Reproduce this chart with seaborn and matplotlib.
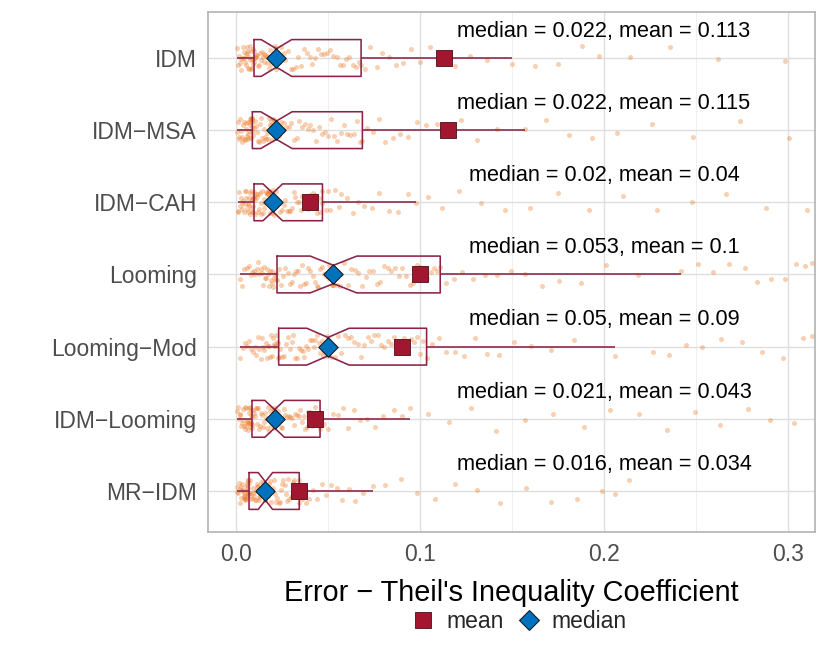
import numpy as np
import pandas as pd
import seaborn as sns
import matplotlib
matplotlib.use("Agg")
import matplotlib.pyplot as plt
from matplotlib.lines import Line2D

# model names (R drew the hyphen as a minus sign)
models = ["IDM", "IDM\u2212MSA", "IDM\u2212CAH", "Looming", "Looming\u2212Mod",
          "IDM\u2212Looming", "MR\u2212IDM"]

# summary values printed on the chart
medians = [0.022, 0.022, 0.02, 0.053, 0.05, 0.021, 0.016]
means = [0.113, 0.115, 0.04, 0.1, 0.09, 0.043, 0.034]

# per-run errors, estimated from the point clouds (a few runs lie beyond the x range)
idm = [
    0.0008, 0.0012, 0.0017, 0.0021, 0.0026, 0.0029, 0.0034, 0.0038, 0.0041, 0.0045,
    0.0049, 0.0052, 0.0055, 0.0058, 0.0062, 0.0064, 0.0067, 0.0071, 0.0073, 0.0076,
    0.0078, 0.0081, 0.0083, 0.0086, 0.0088, 0.0091, 0.0093, 0.0094, 0.0096, 0.0097,
    0.0098, 0.0102, 0.0107, 0.0111, 0.0116, 0.0121, 0.0125, 0.0131, 0.0136, 0.0140,
    0.0145, 0.0151, 0.0155, 0.0160, 0.0166, 0.0171, 0.0175, 0.0181, 0.0186, 0.0190,
    0.0194, 0.0198, 0.0201, 0.0204, 0.0207, 0.0210, 0.0213, 0.0215, 0.0217, 0.0219,
    0.0220, 0.0232, 0.0245, 0.0259, 0.0268, 0.0283, 0.0297, 0.0310, 0.0326, 0.0339,
    0.0355, 0.0370, 0.0384, 0.0401, 0.0415, 0.0432, 0.0448, 0.0463, 0.0479, 0.0496,
    0.0512, 0.0529, 0.0547, 0.0563, 0.0581, 0.0598, 0.0616, 0.0634, 0.0651, 0.0667,
    0.0680, 0.0702, 0.0731, 0.0764, 0.0793, 0.0832, 0.0868, 0.0907, 0.0951, 0.0998,
    0.1057, 0.1121, 0.1188, 0.1273, 0.1364, 0.1498, 0.1623, 0.1752, 0.1881, 0.1972,
    0.2143, 0.2361, 0.2618, 0.2984, 0.35, 0.48, 0.70, 1.00, 1.45, 1.90, 2.50,
]
idm_msa = [
    0.0007, 0.0011, 0.0016, 0.0019, 0.0024, 0.0028, 0.0031, 0.0035, 0.0039, 0.0042,
    0.0046, 0.0049, 0.0052, 0.0055, 0.0058, 0.0061, 0.0064, 0.0067, 0.0069, 0.0072,
    0.0074, 0.0076, 0.0078, 0.0080, 0.0082, 0.0084, 0.0085, 0.0086, 0.0087, 0.0088,
    0.0089, 0.0094, 0.0099, 0.0104, 0.0110, 0.0115, 0.0121, 0.0126, 0.0132, 0.0137,
    0.0143, 0.0148, 0.0153, 0.0159, 0.0164, 0.0169, 0.0174, 0.0179, 0.0184, 0.0189,
    0.0193, 0.0197, 0.0201, 0.0204, 0.0207, 0.0210, 0.0213, 0.0215, 0.0217, 0.0219,
    0.0220, 0.0234, 0.0247, 0.0261, 0.0273, 0.0288, 0.0301, 0.0316, 0.0329, 0.0345,
    0.0359, 0.0374, 0.0390, 0.0405, 0.0421, 0.0437, 0.0452, 0.0468, 0.0484, 0.0501,
    0.0517, 0.0534, 0.0551, 0.0569, 0.0586, 0.0604, 0.0621, 0.0639, 0.0656, 0.0672,
    0.0687, 0.0712, 0.0745, 0.0778, 0.0812, 0.0853, 0.0891, 0.0934, 0.0982, 0.1035,
    0.1092, 0.1153, 0.1224, 0.1312, 0.1421, 0.1568, 0.1684, 0.1812, 0.1935, 0.2071,
    0.2262, 0.2483, 0.2741, 0.3008, 0.36, 0.50, 0.72, 1.05, 1.50, 2.00, 2.60,
]
idm_cah = [
    0.0009, 0.0013, 0.0018, 0.0022, 0.0027, 0.0031, 0.0035, 0.0039, 0.0043, 0.0047,
    0.0050, 0.0053, 0.0057, 0.0060, 0.0063, 0.0066, 0.0069, 0.0072, 0.0075, 0.0078,
    0.0080, 0.0083, 0.0085, 0.0087, 0.0089, 0.0091, 0.0093, 0.0095, 0.0096, 0.0097,
    0.0098, 0.0102, 0.0106, 0.0110, 0.0114, 0.0118, 0.0122, 0.0126, 0.0130, 0.0134,
    0.0138, 0.0142, 0.0146, 0.0150, 0.0154, 0.0158, 0.0162, 0.0166, 0.0170, 0.0174,
    0.0178, 0.0181, 0.0184, 0.0187, 0.0190, 0.0192, 0.0194, 0.0196, 0.0198, 0.0199,
    0.0200, 0.0208, 0.0216, 0.0225, 0.0233, 0.0242, 0.0251, 0.0260, 0.0269, 0.0278,
    0.0287, 0.0296, 0.0305, 0.0314, 0.0323, 0.0333, 0.0342, 0.0352, 0.0361, 0.0371,
    0.0381, 0.0391, 0.0400, 0.0410, 0.0420, 0.0430, 0.0440, 0.0450, 0.0459, 0.0466,
    0.0470, 0.0490, 0.0500, 0.0512, 0.0540, 0.0562, 0.0571, 0.0603, 0.0634, 0.0662,
    0.0698, 0.0741, 0.0779, 0.0832, 0.0881, 0.0934, 0.0978, 0.1043, 0.1121, 0.1213,
    0.1332, 0.1461, 0.1598, 0.1752, 0.1917, 0.2103, 0.2288, 0.2476, 0.2661, 0.2879, 0.3102,
]
looming = [
    0.0021, 0.0034, 0.0046, 0.0058, 0.0069, 0.0079, 0.0088, 0.0097, 0.0105, 0.0113,
    0.0120, 0.0127, 0.0134, 0.0141, 0.0147, 0.0153, 0.0159, 0.0165, 0.0170, 0.0175,
    0.0180, 0.0185, 0.0190, 0.0194, 0.0198, 0.0203, 0.0208, 0.0213, 0.0217, 0.0220,
    0.0223, 0.0235, 0.0246, 0.0258, 0.0269, 0.0281, 0.0292, 0.0304, 0.0316, 0.0327,
    0.0338, 0.0349, 0.0361, 0.0372, 0.0383, 0.0394, 0.0405, 0.0416, 0.0427, 0.0438,
    0.0448, 0.0459, 0.0469, 0.0479, 0.0489, 0.0498, 0.0507, 0.0515, 0.0522, 0.0527,
    0.0530, 0.0549, 0.0568, 0.0587, 0.0607, 0.0626, 0.0646, 0.0665, 0.0685, 0.0705,
    0.0724, 0.0744, 0.0764, 0.0784, 0.0804, 0.0824, 0.0844, 0.0864, 0.0884, 0.0904,
    0.0924, 0.0944, 0.0963, 0.0982, 0.1001, 0.1020, 0.1039, 0.1058, 0.1077, 0.1095,
    0.1110, 0.1142, 0.1183, 0.1231, 0.1288, 0.1352, 0.1421, 0.1497, 0.1573, 0.1662,
    0.1758, 0.1876, 0.2009, 0.2187, 0.2421, 0.2512, 0.2593, 0.2681, 0.2764, 0.2832,
    0.2907, 0.2981, 0.3043, 0.3092, 0.3131, 0.33, 0.37, 0.42, 0.50, 0.58, 0.68,
]
looming_mod = [
    0.0022, 0.0036, 0.0049, 0.0061, 0.0072, 0.0083, 0.0093, 0.0102, 0.0111, 0.0119,
    0.0127, 0.0134, 0.0141, 0.0148, 0.0155, 0.0161, 0.0167, 0.0173, 0.0179, 0.0184,
    0.0189, 0.0194, 0.0199, 0.0204, 0.0209, 0.0214, 0.0219, 0.0223, 0.0227, 0.0230,
    0.0232, 0.0242, 0.0252, 0.0262, 0.0272, 0.0282, 0.0292, 0.0302, 0.0312, 0.0322,
    0.0332, 0.0342, 0.0352, 0.0362, 0.0372, 0.0382, 0.0392, 0.0402, 0.0412, 0.0422,
    0.0431, 0.0440, 0.0449, 0.0457, 0.0465, 0.0472, 0.0479, 0.0486, 0.0492, 0.0497,
    0.0500, 0.0518, 0.0536, 0.0554, 0.0572, 0.0590, 0.0608, 0.0626, 0.0644, 0.0662,
    0.0680, 0.0698, 0.0716, 0.0734, 0.0752, 0.0770, 0.0788, 0.0806, 0.0824, 0.0842,
    0.0860, 0.0878, 0.0896, 0.0914, 0.0932, 0.0949, 0.0966, 0.0983, 0.1000, 0.1018,
    0.1036, 0.1067, 0.1103, 0.1142, 0.1188, 0.1241, 0.1297, 0.1362, 0.1431, 0.1512,
    0.1603, 0.1712, 0.1836, 0.2061, 0.2267, 0.2354, 0.2448, 0.2532, 0.2637, 0.2749,
    0.2861, 0.2973, 0.3079, 0.3132, 0.33, 0.36, 0.39, 0.42, 0.43, 0.47, 0.52,
]
idm_looming = [
    0.0005, 0.0010, 0.0015, 0.0020, 0.0024, 0.0028, 0.0032, 0.0036, 0.0040, 0.0044,
    0.0047, 0.0050, 0.0053, 0.0056, 0.0059, 0.0062, 0.0065, 0.0067, 0.0069, 0.0071,
    0.0073, 0.0075, 0.0077, 0.0079, 0.0080, 0.0082, 0.0083, 0.0084, 0.0085, 0.0086,
    0.0087, 0.0092, 0.0097, 0.0102, 0.0107, 0.0112, 0.0117, 0.0122, 0.0127, 0.0132,
    0.0137, 0.0142, 0.0147, 0.0152, 0.0157, 0.0162, 0.0167, 0.0172, 0.0177, 0.0182,
    0.0186, 0.0190, 0.0194, 0.0197, 0.0200, 0.0202, 0.0204, 0.0206, 0.0208, 0.0209,
    0.0210, 0.0218, 0.0227, 0.0235, 0.0244, 0.0252, 0.0261, 0.0269, 0.0278, 0.0287,
    0.0296, 0.0304, 0.0313, 0.0322, 0.0331, 0.0340, 0.0349, 0.0358, 0.0367, 0.0376,
    0.0385, 0.0394, 0.0403, 0.0412, 0.0421, 0.0429, 0.0437, 0.0444, 0.0450, 0.0454,
    0.0457, 0.0478, 0.0501, 0.0525, 0.0552, 0.0580, 0.0609, 0.0641, 0.0674, 0.0712,
    0.0753, 0.0801, 0.0857, 0.0903, 0.0948, 0.1042, 0.1157, 0.1279, 0.1413, 0.1568,
    0.1721, 0.1893, 0.2034, 0.2189, 0.2342, 0.2497, 0.2633, 0.2781, 0.2902, 0.3034, 0.33,
]
mr_idm = [
    0.0004, 0.0008, 0.0012, 0.0016, 0.0020, 0.0023, 0.0026, 0.0029, 0.0032, 0.0035,
    0.0038, 0.0041, 0.0043, 0.0045, 0.0047, 0.0049, 0.0051, 0.0053, 0.0055, 0.0057,
    0.0059, 0.0061, 0.0062, 0.0064, 0.0065, 0.0066, 0.0067, 0.0068, 0.0069, 0.0070,
    0.0071, 0.0075, 0.0079, 0.0083, 0.0087, 0.0091, 0.0095, 0.0099, 0.0103, 0.0107,
    0.0111, 0.0114, 0.0117, 0.0120, 0.0123, 0.0126, 0.0129, 0.0132, 0.0135, 0.0138,
    0.0141, 0.0144, 0.0147, 0.0150, 0.0152, 0.0154, 0.0156, 0.0157, 0.0158, 0.0159,
    0.0160, 0.0167, 0.0173, 0.0180, 0.0186, 0.0193, 0.0199, 0.0206, 0.0212, 0.0219,
    0.0225, 0.0232, 0.0238, 0.0245, 0.0251, 0.0258, 0.0264, 0.0271, 0.0277, 0.0284,
    0.0290, 0.0297, 0.0303, 0.0309, 0.0315, 0.0321, 0.0327, 0.0332, 0.0337, 0.0341,
    0.0344, 0.0361, 0.0379, 0.0398, 0.0419, 0.0441, 0.0465, 0.0491, 0.0518, 0.0547,
    0.0578, 0.0612, 0.0649, 0.0691, 0.0743, 0.0812, 0.0897, 0.0985, 0.1083, 0.1192,
    0.1311, 0.1436, 0.1574, 0.1712, 0.1853, 0.1987, 0.2061, 0.2134, 0.33, 0.36, 0.41,
]

runs = [idm, idm_msa, idm_cah, looming, looming_mod, idm_looming, mr_idm]
df = pd.concat([pd.DataFrame({"model": m, "error": v}) for m, v in zip(models, runs)],
               ignore_index=True)

point_col = "#EC7A28"
box_col = "#8C2346"
mean_col = "#A3162F"
median_col = "#0072BD"

sns.set_style("white")
plt.rcParams["font.family"] = ["Liberation Sans", "DejaVu Sans"]

fig, ax = plt.subplots(figsize=(8.3, 6.46), dpi=100)
fig.subplots_adjust(left=0.2506, right=0.982, top=0.9814, bottom=0.1765)

np.random.seed(7)
sns.stripplot(data=df, x="error", y="model", order=models, jitter=0.17, size=3.6,
              color=point_col, alpha=0.36, linewidth=0, ax=ax, zorder=2)
sns.boxplot(data=df, x="error", y="model", order=models, width=0.51, fill=False,
            color=box_col, saturation=1, linewidth=1.15, notch=True, showfliers=False,
            capwidths=0, whis=1.5, ax=ax, zorder=3)

pos = np.arange(len(models))
sns.scatterplot(x=means, y=pos, marker="s", s=126, color=mean_col, edgecolor="#4A0E1A",
                linewidth=0.6, zorder=5, ax=ax, legend=False)
sns.scatterplot(x=medians, y=pos, marker="D", s=98, color=median_col, edgecolor="#111111",
                linewidth=0.7, zorder=6, ax=ax, legend=False)

for i, (md, mn) in enumerate(zip(medians, means)):
    ax.text(0.2, i - 0.37, f"median = {md:g}, mean = {mn:g}", ha="center", va="center",
            fontsize=15.6, color="black", zorder=7)

ax.set_xlim(-0.0152, 0.3147)
ax.set_ylim(6.568, -0.637)
ax.set_yticks(pos)
ax.set_yticklabels(models)
ax.set_xticks([0, 0.1, 0.2, 0.3])
ax.set_xticklabels(["0.0", "0.1", "0.2", "0.3"])
ax.set_xticks([0.05, 0.15, 0.25], minor=True)
ax.tick_params(which="major", length=5, width=1, color="#B3B3B3",
               labelcolor="#4D4D4D", labelsize=16.5, pad=3)
ax.tick_params(which="minor", length=0)
ax.set_ylabel("")
ax.set_xlabel("Error \u2212 Theil's Inequality Coefficient", fontsize=20.8, color="black",
              labelpad=9)

ax.set_axisbelow(True)
ax.grid(True, which="major", color="#DEDEDE", linewidth=1.0)
ax.grid(True, which="minor", axis="x", color="#EFEFEF", linewidth=0.7)
for s in ax.spines.values():
    s.set_visible(True)
    s.set_color("#B3B3B3")
    s.set_linewidth(1.2)

handles = [
    Line2D([], [], linestyle="none", marker="s", markersize=11, markerfacecolor=mean_col,
           markeredgecolor="#4A0E1A", markeredgewidth=0.6),
    Line2D([], [], linestyle="none", marker="D", markersize=10, markerfacecolor=median_col,
           markeredgecolor="#111111", markeredgewidth=0.7),
]
fig.legend(handles, ["mean", "median"], loc="center", bbox_to_anchor=(518 / 830, 1 - 622 / 646),
           ncol=2, frameon=False, fontsize=16.5, handletextpad=0.4, columnspacing=0.5,
           handlelength=1.2)

fig.savefig("out.png", dpi=100)
